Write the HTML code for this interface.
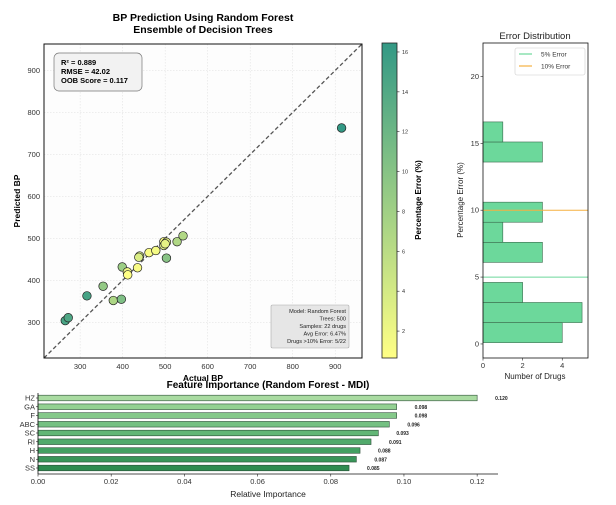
<!DOCTYPE html>
<html><head><meta charset="utf-8">
<style>
body{margin:0;background:#fff;}
svg{display:block;font-family:"Liberation Sans",Arial,sans-serif;}
</style></head>
<body>
<svg id="fig" width="616" height="505" viewBox="0 0 616 505" xmlns="http://www.w3.org/2000/svg">
<rect width="616" height="505" fill="#fff"/>
<g id="scatter"></g>
<g id="cbar"></g>
<g id="hist"></g>
<g id="feat"></g>
</svg>
<script>
// scatter data
const actualBP = [915,265,272,316,354,378,397,399,411,412,435,440,438,462,478,497,497,503,503,528,542,500];
const predictedBP = [763,304,311,363,386,352,355,432,420,413,430,458,455,466,471,492,483,491,453,492,506,487];
const pctError = [16.6,14.7,14.3,14.9,9,7,10.6,8.3,2,0.5,1.2,4,3.5,1,1.5,1,3,2.5,9.9,6.8,6.7,2.6];
const scatterTicks = [300,400,500,600,700,800,900];
const cbarTicks = [2,4,6,8,10,12,14,16];
// histogram data
const binStarts = [0.1,1.6,3.1,4.6,6.1,7.6,9.1,10.6,12.1,13.6,15.1];
const binCounts = [4,5,2,0,3,1,3,0,0,3,1];
const histYTicks = [0,5,10,15,20];
const histXTicks = [0,2,4];
// feature data
const features = ["HZ","GA","F","ABC","SC","RI","H","N","SS"];
const importances = [0.120,0.098,0.098,0.096,0.093,0.091,0.088,0.087,0.085];
const featTicks = [0,0.02,0.04,0.06,0.08,0.10,0.12];

const NS="http://www.w3.org/2000/svg";
function mk(parent,tag,attrs,text){const e=document.createElementNS(NS,tag);for(const k in attrs)e.setAttribute(k,attrs[k]);if(text!==undefined)e.textContent=text;parent.appendChild(e);return e;}
function cmap(v,mn,mx){let t=1-(v-mn)/(mx-mn);t=Math.max(0,Math.min(1,t));const a=0.8;const r=t,g=0.5+0.5*t,b=0.4;const f=c=>Math.round((c*a+(1-a))*255);return `rgb(${f(r)},${f(g)},${f(b)})`;}

// ---- scatter
const S=document.getElementById('scatter');
const L=44,R=362,T=44,B=358,dmin=215,dmax=963;
const sx=v=>L+(v-dmin)/(dmax-dmin)*(R-L);
const sy=v=>B-(v-dmin)/(dmax-dmin)*(B-T);
mk(S,'rect',{x:L,y:T,width:R-L,height:B-T,fill:'#fdfdfd'});
scatterTicks.forEach(v=>{
 let g=mk(S,'line',{x1:sx(v),x2:sx(v),y1:T,y2:B,stroke:'#ddd','stroke-width':0.5,'stroke-dasharray':'1.5,1.5'});
 
 g=mk(S,'line',{x1:L,x2:R,y1:sy(v),y2:sy(v),stroke:'#ddd','stroke-width':0.5,'stroke-dasharray':'1.5,1.5'});
 
 let t=mk(S,'text',{x:sx(v),y:B+11,'font-size':7.5,'text-anchor':'middle',fill:'#333'},v);
 
 t=mk(S,'text',{x:L-4,y:sy(v)+2.5,'font-size':7.5,'text-anchor':'end',fill:'#333'},v);
 
});
let d=mk(S,'line',{x1:sx(dmin),y1:sy(dmin),x2:sx(dmax),y2:sy(dmax),stroke:'#555','stroke-width':1.3,'stroke-dasharray':'4,2.5'});

const cmin=0.65,cmax=16.45;
actualBP.forEach((a,i)=>{
 const c=mk(S,'circle',{cx:sx(a),cy:sy(predictedBP[i]),r:4.3,fill:cmap(pctError[i],cmin,cmax),stroke:'#222','stroke-width':0.7});
 
});
mk(S,'rect',{x:L,y:T,width:R-L,height:B-T,fill:'none',stroke:'#111','stroke-width':1});
let tt=mk(S,'text',{x:203,y:21,'font-size':10.5,'font-weight':'bold','text-anchor':'middle'},'BP Prediction Using Random Forest');

tt=mk(S,'text',{x:203,y:33,'font-size':10.5,'font-weight':'bold','text-anchor':'middle'},'Ensemble of Decision Trees');

tt=mk(S,'text',{x:203,y:381,'font-size':8.5,'font-weight':'bold','text-anchor':'middle'},'Actual BP');

tt=mk(S,'text',{x:0,y:0,'font-size':8.5,'font-weight':'bold','text-anchor':'middle',transform:'translate(20,201) rotate(-90)'},'Predicted BP');

const sb=mk(S,'g',{});
mk(sb,'rect',{x:54,y:53,width:88,height:38,rx:5,fill:'#f2f2f2',stroke:'#777','stroke-width':0.7});
['R² = 0.889','RMSE = 42.02','OOB Score = 0.117'].forEach((s,i)=>mk(sb,'text',{x:61,y:65+i*9,'font-size':7.5,'font-weight':'bold'},s));
const ib=mk(S,'g',{});
mk(ib,'rect',{x:271,y:305,width:78,height:43,rx:1.5,fill:'#e6e6e6',stroke:'#aaa','stroke-width':0.6});
['Model: Random Forest','Trees: 500','Samples: 22 drugs','Avg Error: 6.47%','Drugs >10% Error: 5/22'].forEach((s,i)=>mk(ib,'text',{x:346,y:313+i*7.5,'font-size':5.6,'text-anchor':'end',fill:'#222'},s));

// ---- colorbar
const C=document.getElementById('cbar');
const cx0=382,cw=15,cT=43,cB=358;
const cy=v=>cB-(v-cmin)/(cmax-cmin)*(cB-cT);
const defs=mk(C,'defs',{});const lg=mk(defs,'linearGradient',{id:'cg',x1:0,y1:1,x2:0,y2:0});
for(let k=0;k<=10;k++){const v=cmin+(cmax-cmin)*k/10;mk(lg,'stop',{offset:k/10,'stop-color':cmap(v,cmin,cmax)});}
mk(C,'rect',{x:cx0,y:cT,width:cw,height:cB-cT,fill:'url(#cg)',stroke:'#222','stroke-width':0.8});
cbarTicks.forEach(v=>{mk(C,'line',{x1:cx0+cw,x2:cx0+cw+2.5,y1:cy(v),y2:cy(v),stroke:'#222','stroke-width':0.6});
 const t=mk(C,'text',{x:cx0+cw+5,y:cy(v)+2,'font-size':5.5,fill:'#333'},v);});
tt=mk(C,'text',{x:0,y:0,'font-size':8,'font-weight':'bold','text-anchor':'middle',transform:'translate(421,200) rotate(-90)'},'Percentage Error (%)');


// ---- histogram
const H=document.getElementById('hist');
const hL=483,hR=588,hT=43,hB=358,hx1=5.3,hy0=-1.05,hy1=22.5;
const hx=v=>hL+v/hx1*(hR-hL);
const hy=v=>hB-(v-hy0)/(hy1-hy0)*(hB-hT);
binStarts.forEach((s,i)=>{if(!binCounts[i])return;
 const r=mk(H,'rect',{x:hL,y:hy(s+1.5),width:hx(binCounts[i])-hL,height:hy(s)-hy(s+1.5),fill:'#6cd89b',stroke:'#3a6b4d','stroke-width':0.6});
 });
let l5=mk(H,'line',{x1:hL,x2:hR,y1:hy(5),y2:hy(5),stroke:'#6cd89b','stroke-width':1});

let l10=mk(H,'line',{x1:hL,x2:hR,y1:hy(10),y2:hy(10),stroke:'#f5b041','stroke-width':1});

mk(H,'rect',{x:hL,y:hT,width:hR-hL,height:hB-hT,fill:'none',stroke:'#111','stroke-width':0.8});
histYTicks.forEach(v=>{mk(H,'line',{x1:hL-2.5,x2:hL,y1:hy(v),y2:hy(v),stroke:'#222','stroke-width':0.6});
 const t=mk(H,'text',{x:hL-4,y:hy(v)+2.5,'font-size':7.5,'text-anchor':'end',fill:'#333'},v);});
histXTicks.forEach(v=>{mk(H,'line',{x1:hx(v),x2:hx(v),y1:hB,y2:hB+2.5,stroke:'#222','stroke-width':0.6});
 const t=mk(H,'text',{x:hx(v),y:hB+10,'font-size':7.5,'text-anchor':'middle',fill:'#333'},v);});
tt=mk(H,'text',{x:535,y:39,'font-size':9.5,'text-anchor':'middle',fill:'#222'},'Error Distribution');

tt=mk(H,'text',{x:535,y:379,'font-size':8,'text-anchor':'middle',fill:'#222'},'Number of Drugs');

tt=mk(H,'text',{x:0,y:0,'font-size':8,'text-anchor':'middle',fill:'#222',transform:'translate(463,200) rotate(-90)'},'Percentage Error (%)');

const lgG=mk(H,'g',{});
mk(lgG,'rect',{x:515,y:48,width:70,height:27,rx:2,fill:'#fff',stroke:'#ccc','stroke-width':0.6});
mk(lgG,'line',{x1:519,x2:532,y1:54,y2:54,stroke:'#6cd89b','stroke-width':1.2});
mk(lgG,'text',{x:541,y:56.5,'font-size':6.5,fill:'#333'},'5% Error');
mk(lgG,'line',{x1:519,x2:532,y1:66,y2:66,stroke:'#f5b041','stroke-width':1.2});
mk(lgG,'text',{x:541,y:68.5,'font-size':6.5,fill:'#333'},'10% Error');

// ---- feature importance
const F=document.getElementById('feat');
const fL=38,fR=498,fT=393,fB=474,fmax=0.1257;
const fx=v=>fL+v/fmax*(fR-fL);
const fy=i=>398+i*8.75;
const fcols=['#a9dba1','#93d192','#85c98a','#74c082','#62b676','#52aa6c','#43a062','#389559','#2e8b50'];
features.forEach((n,i)=>{
 const r=mk(F,'rect',{x:fL,y:fy(i)-2.8,width:fx(importances[i])-fL,height:5.6,fill:fcols[i],stroke:'#2f4f3a','stroke-width':0.6});
 
 let t=mk(F,'text',{x:fL-3,y:fy(i)+2.5,'font-size':7.5,'text-anchor':'end',fill:'#333'},n);
 
 mk(F,'line',{x1:fL-2,x2:fL,y1:fy(i),y2:fy(i),stroke:'#222','stroke-width':0.6});
 t=mk(F,'text',{x:fx(importances[i])+18,y:fy(i)+2,'font-size':5,'font-weight':'bold',fill:'#222'},importances[i].toFixed(3));
 
});
mk(F,'line',{x1:fL,x2:fL,y1:fT,y2:fB,stroke:'#111','stroke-width':0.8});
mk(F,'line',{x1:fL,x2:fR,y1:fB,y2:fB,stroke:'#111','stroke-width':0.8});
featTicks.forEach(v=>{mk(F,'line',{x1:fx(v),x2:fx(v),y1:fB,y2:fB+2.5,stroke:'#222','stroke-width':0.6});
 const t=mk(F,'text',{x:fx(v),y:fB+10,'font-size':7.5,'text-anchor':'middle',fill:'#333'},v.toFixed(2));
 });
tt=mk(F,'text',{x:268,y:388,'font-size':10,'font-weight':'bold','text-anchor':'middle'},'Feature Importance (Random Forest - MDI)');

tt=mk(F,'text',{x:268,y:497,'font-size':8.5,'text-anchor':'middle',fill:'#222'},'Relative Importance');

</script>
</body></html>
